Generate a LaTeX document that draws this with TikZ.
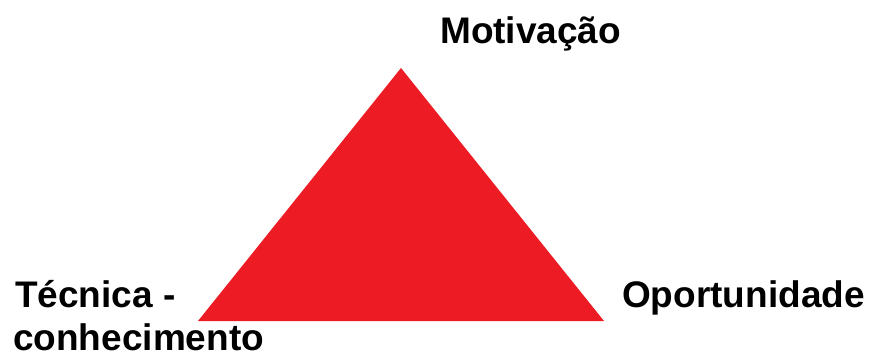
\documentclass[tikz,border=0pt]{standalone}
\usepackage{fontspec}
\setmainfont{Liberation Sans}
\usepackage{tikz}
\usetikzlibrary{positioning}
\definecolor{paintred}{RGB}{237,28,36}

\tikzset{
  lbl/.style={font=\fontsize{37}{36}\selectfont\bfseries,inner sep=0pt,align=left}
}

\begin{document}
\begin{tikzpicture}[x=1pt,y=-1pt]
    \useasboundingbox (0,0) rectangle (872,356);
    % corners of the triangle
    \coordinate (apex) at (401,68);
    \coordinate (lft) at (198,321);
    \coordinate (rgt) at (604,321);
    \fill[paintred] (apex) -- (rgt) -- (lft) -- cycle;
    % labels
    \node[lbl,anchor=base west] (motiv) at (440,43) {Motivação};
    \node[lbl,anchor=base west] (oport) at (622,307) {Oportunidade};
    \node[lbl,anchor=base west] (tecn) at (15,307) {Técnica -};
    \node[lbl,anchor=base west] (conh) at (13,350) {conhecimento};
  \end{tikzpicture}
\end{document}
